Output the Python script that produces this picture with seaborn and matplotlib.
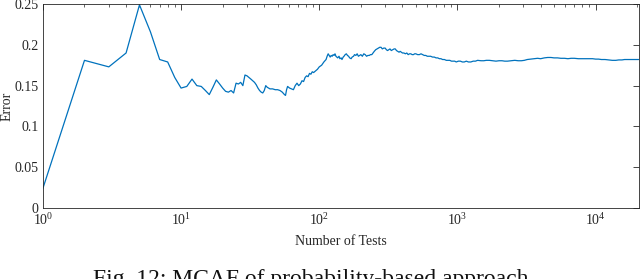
import numpy as np
import pandas as pd
import matplotlib
matplotlib.use("Agg")
import matplotlib.pyplot as plt
import matplotlib.ticker as mticker
import seaborn as sns

# values
num_tests = [1, 2, 3, 4, 5, 6, 7, 8, 9, 10, 11, 12, 13, 14, 15, 16, 17, 18, 19, 20,
             21, 22, 23, 24, 25, 26, 27, 28, 29, 30, 31, 32, 33, 34, 35, 36, 37, 38, 39, 40,
             41, 42, 44, 46, 48, 50, 52, 54, 56, 57, 58, 59, 61, 63, 65, 67, 69, 71, 73, 75,
             77, 79, 81, 83, 85, 87, 89, 91, 94, 97, 100, 104, 108, 112, 114, 116, 118, 120, 122, 124,
             126, 128, 130, 132, 134, 136, 139, 141, 144, 146, 149, 151, 154, 157, 160, 163, 166, 170, 173, 177,
             180, 184, 188, 192, 196, 200, 205, 210, 215, 220, 225, 230, 235, 240, 245, 250, 256, 262, 268, 274,
             280, 286, 293, 300, 306, 312, 318, 325, 332, 340, 348, 355, 362, 370, 378, 385, 393, 400, 410, 420,
             430, 440, 450, 460, 470, 480, 490, 500, 515, 530, 545, 560, 575, 590, 605, 620, 640, 660, 680, 700,
             720, 740, 760, 780, 805, 830, 855, 880, 905, 930, 955, 980, 1015, 1050, 1085, 1120, 1160, 1200, 1250, 1300,
             1350, 1400, 1480, 1550, 1620, 1700, 1800, 1900, 2000, 2100, 2200, 2300, 2450, 2600, 2750, 2900, 3050, 3200, 3400, 3600,
             3800, 4000, 4250, 4500, 4750, 5000, 5300, 5600, 5950, 6300, 6650, 7000, 7500, 8000, 8500, 9000, 9500, 10000, 10500, 11000,
             11700, 12500, 13200, 14000, 14700, 15500, 16200, 17000, 17700, 18500, 19200, 20000, 20500]
error = [0.024, 0.181, 0.173, 0.190, 0.249, 0.216, 0.182, 0.179, 0.160, 0.147, 0.149, 0.158, 0.150, 0.149, 0.144, 0.139, 0.148, 0.157, 0.152, 0.147,
         0.143, 0.142, 0.144, 0.141, 0.153, 0.152, 0.154, 0.150, 0.163, 0.162, 0.160, 0.158, 0.156, 0.154, 0.151, 0.147, 0.144, 0.142, 0.141, 0.144,
         0.150, 0.148, 0.146, 0.146, 0.145, 0.145, 0.144, 0.142, 0.139, 0.138, 0.145, 0.149, 0.147, 0.146, 0.145, 0.150, 0.153, 0.150, 0.152, 0.156,
         0.155, 0.160, 0.162, 0.161, 0.165, 0.164, 0.167, 0.166, 0.168, 0.170, 0.173, 0.175, 0.179, 0.182, 0.186, 0.189, 0.187, 0.185, 0.187, 0.186,
         0.188, 0.187, 0.189, 0.186, 0.185, 0.184, 0.186, 0.183, 0.184, 0.182, 0.185, 0.186, 0.188, 0.189, 0.187, 0.186, 0.184, 0.183, 0.185, 0.186,
         0.188, 0.187, 0.189, 0.186, 0.187, 0.188, 0.186, 0.189, 0.188, 0.186, 0.187, 0.187, 0.188, 0.188, 0.190, 0.192, 0.194, 0.195, 0.196, 0.197,
         0.197, 0.195, 0.196, 0.196, 0.194, 0.193, 0.194, 0.195, 0.193, 0.194, 0.195, 0.195, 0.193, 0.192, 0.191, 0.192, 0.191, 0.190, 0.190, 0.189,
         0.190, 0.188, 0.189, 0.189, 0.188, 0.188, 0.189, 0.189, 0.188, 0.188, 0.189, 0.188, 0.187, 0.187, 0.186, 0.186, 0.186, 0.185, 0.185, 0.184,
         0.184, 0.183, 0.183, 0.182, 0.182, 0.181, 0.181, 0.181, 0.180, 0.180, 0.180, 0.179, 0.180, 0.180, 0.179, 0.179, 0.180, 0.179, 0.179, 0.180,
         0.180, 0.181, 0.1805, 0.1805, 0.181, 0.181, 0.1805, 0.180, 0.1805, 0.1805, 0.180, 0.180, 0.1805, 0.181, 0.1805, 0.1805, 0.181, 0.182, 0.1825, 0.183,
         0.1835, 0.183, 0.184, 0.1845, 0.1845, 0.184, 0.184, 0.1835, 0.1835, 0.183, 0.1835, 0.1835, 0.183, 0.183, 0.183, 0.183, 0.183, 0.1825, 0.1825, 0.182,
         0.182, 0.1815, 0.181, 0.181, 0.1815, 0.1815, 0.182, 0.182, 0.182, 0.182, 0.182, 0.182, 0.182]

y_ticks = [0, 0.05, 0.1, 0.15, 0.2, 0.25]
y_tick_labels = ["0", "0.05", "0.1", "0.15", "0.2", "0.25"]

df = pd.DataFrame({"tests": num_tests, "error": error})

sns.set_theme(style="white")
plt.rcParams["font.family"] = ["Liberation Serif", "DejaVu Serif"]
plt.rcParams["mathtext.fontset"] = "custom"
plt.rcParams["mathtext.rm"] = "Liberation Serif"
plt.rcParams["mathtext.it"] = "Liberation Serif:italic"

fig = plt.figure(figsize=(6.4, 2.79), dpi=100)
ax = fig.add_axes([0.067, 0.2545, 0.931, 0.731])

sns.lineplot(data=df, x="tests", y="error", estimator=None, color="#0072BD",
             linewidth=0.9, ax=ax)

ax.set_xscale("log")
ax.set_xlim(1, 2.05e4)
ax.set_ylim(0, 0.25)
ax.set_yticks(y_ticks)
ax.set_yticklabels(y_tick_labels)
ax.xaxis.set_major_locator(mticker.LogLocator(base=10, numticks=10))
ax.xaxis.set_minor_locator(mticker.LogLocator(base=10, subs=np.arange(2, 10), numticks=20))
ax.xaxis.set_minor_formatter(mticker.NullFormatter())

ax.tick_params(axis="both", which="major", direction="in", length=4, width=0.6,
               top=True, right=True, labelsize=10, colors="#262626", pad=3)
ax.tick_params(axis="both", which="minor", direction="in", length=2.2, width=0.5,
               top=True, right=True)
for sp in ax.spines.values():
    sp.set_color("#262626")
    sp.set_linewidth(0.6)

ax.set_xlabel("Number of Tests", fontsize=10, color="#262626", labelpad=5)
ax.set_ylabel("Error", fontsize=10, color="#262626", labelpad=1)

fig.text(0.49, 0.035, "Fig. 12: MCAF of probability-based approach.", fontsize=17,
         ha="center", va="top", color="#111111")

fig.savefig("out.png", dpi=100)
